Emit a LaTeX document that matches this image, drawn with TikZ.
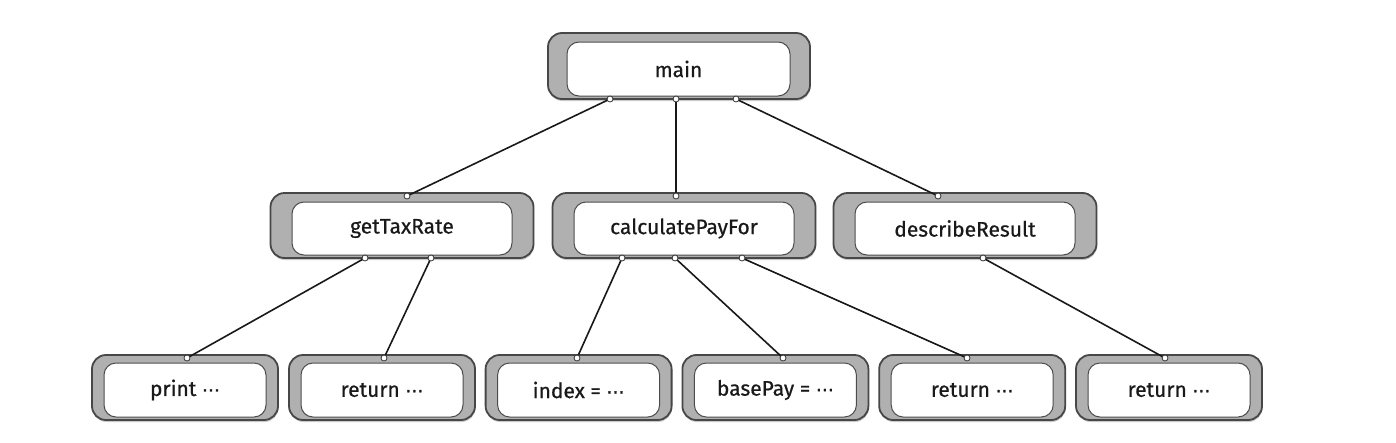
\documentclass[tikz,border=0pt]{standalone}
\usepackage{fontspec}
\usetikzlibrary{shadows}
\newfontfamily\lblfont{Fira Sans}[FakeBold=0.6]
\newfontfamily\dotfont{DejaVu Sans}[FakeBold=1.5]
\newcommand\mydots{{\dotfont\fontsize{18}{20}\selectfont ⋯}}
\begin{document}
\begin{tikzpicture}[x=1pt,y=-1pt,
  outerbox/.style={draw=black!72,line width=1.8pt,fill=black!31,rounded corners=14pt,inner sep=0pt,
     drop shadow={shadow xshift=0.5pt,shadow yshift=-2pt,opacity=0.35,fill=black!60}},
  innerbox/.style={draw=black!70,line width=1pt,fill=white,rounded corners=12pt,inner sep=0pt,
     font=\lblfont\fontsize{21}{24}\selectfont,text=black!90},
  midouter/.style={outerbox,minimum width=263,minimum height=65},
  midinner/.style={innerbox,minimum width=220,minimum height=53},
  leafouter/.style={outerbox,minimum width=186,minimum height=65},
  leafinner/.style={innerbox,minimum width=162,minimum height=54},
  link/.style={draw=black!90,line width=1.6pt},
  port/.style={draw=black!80,fill=white,line width=0.8pt}]
\useasboundingbox (0,0) rectangle (1396,442);
% main
\node[midouter,minimum width=262,minimum height=66] (main) at (679,66) {};
\node[midinner,minimum width=223,minimum height=54] (mainI) at (678.5,69) {main};
% middle row
\foreach \n/\x/\t in {tax/402/getTaxRate,calc/684/calculatePayFor,desc/965/describeResult}{
  \node[midouter] (\n) at (\x,225.5) {};
  \node[midinner] (\n I) at (\x,228.5) {\t};
}
% leaves
\foreach \n/\x/\t in {l1/185/{print \mydots},l2/382/{return \mydots},l3/578.6/{index = \mydots},l4/775.4/{basePay = \mydots},l5/972.2/{return \mydots},l6/1169/{return \mydots}}{
  \node[leafouter] (\n) at (\x,387.5) {};
  \node[leafinner] (\n I) at (\x,390) {\t};
}
% ports
\coordinate (mb1) at (610,99);
\coordinate (mb2) at (676,99);
\coordinate (mb3) at (736,99);
\coordinate (taxT) at (407,196);
\coordinate (calcT) at (676,196);
\coordinate (descT) at (938,196);
\coordinate (taxB1) at (365,258);
\coordinate (taxB2) at (431,258);
\coordinate (calcB1) at (622,258);
\coordinate (calcB2) at (675,258);
\coordinate (calcB3) at (742,258);
\coordinate (descB1) at (983,258);
\coordinate (l1T) at (187,358);
\coordinate (l2T) at (384,358);
\coordinate (l3T) at (577,358);
\coordinate (l4T) at (783,358);
\coordinate (l5T) at (967,358);
\coordinate (l6T) at (1165,358);
\draw[link] (mb1) -- (taxT);
\draw[link] (mb2) -- (calcT);
\draw[link] (mb3) -- (descT);
\draw[link] (taxB1) -- (l1T);
\draw[link] (taxB2) -- (l2T);
\draw[link] (calcB1) -- (l3T);
\draw[link] (calcB2) -- (l4T);
\draw[link] (calcB3) -- (l5T);
\draw[link] (descB1) -- (l6T);
\foreach \p in {mb1,mb2,mb3,taxT,calcT,descT,taxB1,taxB2,calcB1,calcB2,calcB3,descB1,l1T,l2T,l3T,l4T,l5T,l6T}
  \draw[port] (\p) circle (3);
\end{tikzpicture}
\end{document}
